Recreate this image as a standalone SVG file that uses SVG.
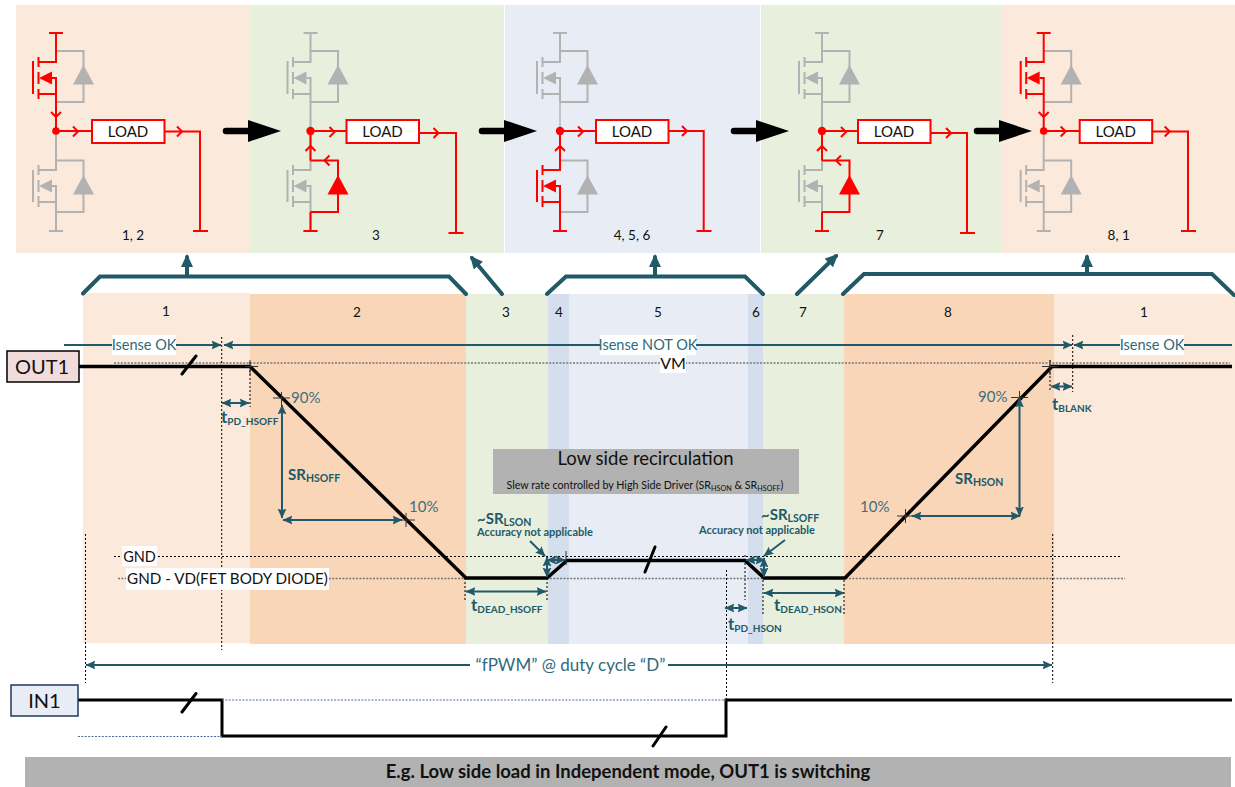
<svg xmlns="http://www.w3.org/2000/svg" width="1235" height="787" viewBox="0 0 1235 787">
<style>
text{font-family:"Lato","Open Sans","Liberation Sans",sans-serif}
.r{color:#f00}.g{color:#b2b2b2}
.w{fill:none;stroke:currentColor;stroke-width:2}
.t{fill:currentColor;stroke:none}
.rw{fill:none;stroke:#f00;stroke-width:2}
.gw{fill:none;stroke:#b2b2b2;stroke-width:2}
.load{fill:#fff;stroke:#f00;stroke-width:2}
.lt{font-size:15px;text-anchor:middle;fill:#111}
.pn{font-size:13.5px;text-anchor:middle;fill:#111}
.bn{font-size:13.5px;text-anchor:middle;fill:#111}
.blk{fill:#000;stroke:none}
.wave{fill:none;stroke:#000;stroke-width:3.5;stroke-linejoin:miter}
.wave2{fill:none;stroke:#000;stroke-width:3;stroke-linejoin:miter}
.thin{fill:none;stroke:#000;stroke-width:3;stroke-linecap:round}
.tick{fill:none;stroke:#333;stroke-width:1}
.br{fill:none;stroke:#215968;stroke-width:4;stroke-linecap:round;stroke-linejoin:miter}
.up{fill:none;stroke:#215968;stroke-width:4;stroke-linecap:round;marker-end:url(#hb)}
.dim{fill:none;stroke:#215968;stroke-width:2;marker-start:url(#ha);marker-end:url(#ha)}
.one{fill:none;stroke:#215968;stroke-width:2;marker-end:url(#ha)}
.dot{fill:none;stroke:#000;stroke-width:1;stroke-dasharray:2 2}
.dot2{fill:none;stroke:#777;stroke-width:1.6;stroke-dasharray:2 1.4}
.nav{fill:none;stroke:#4a6a9c;stroke-width:1;stroke-dasharray:2 1.4}
.wb{fill:#fff}
.lab{font-size:14.5px;fill:#2f6b7b}
.blab{font-size:14.5px;fill:#111}
.b{font-weight:700;fill:#215968}
.pct{font-size:15px;fill:#3d6f7e}
</style>
<defs>
<marker id="ha" markerUnits="userSpaceOnUse" markerWidth="10" markerHeight="10" viewBox="0 0 9 8" refX="8.5" refY="4" orient="auto-start-reverse"><path d="M0 0L9 4L0 8L1.5 4Z" fill="#215968"/></marker>
<marker id="hb" markerUnits="userSpaceOnUse" markerWidth="14" markerHeight="12" viewBox="0 0 14 12" refX="10" refY="6" orient="auto"><path d="M0 0L13 6L0 12Z" fill="#215968"/></marker>
<g id="fetH"><path class="w" d="M-7 33H7M0 33V62H-17.5M-17.5 57V67M-17.5 72V84M-17.5 89V99M-23 61V94M-17.5 94H0M-4 78H0V102"/><path class="t" d="M-17 78L-4 71.5V84.5Z"/></g>
<g id="fetL"><path class="w" d="M0 131V170H-17.5M-17.5 165V175M-17.5 180V192M-17.5 196V207M-23 170V202M-17.5 202H0M-4 186H0V231M-7 231H7"/><path class="t" d="M-17 186L-4 179.5V192.5Z"/></g>
<g id="dioH"><path class="w" d="M0 51H27.5V102H0"/><path class="t" d="M27.5 65L38 84.5H17Z"/></g>
<g id="dioL"><path class="w" d="M0 160.5H27.5V212H0"/><path class="t" d="M27.5 175L38 194.5H17Z"/></g>
<path id="chev" class="rw" d="M-5 -5L0 0L-5 5"/>
<g id="bigA"><path d="M0 131H23" fill="none" stroke="#000" stroke-width="6.5" stroke-linecap="round"/><path class="blk" d="M22 120L55 131L22 142Z"/></g>
</defs>

<g id="backgrounds">
<rect x="16" y="5" width="234" height="248" fill="#fbe9db"/>
<rect x="250" y="5" width="254" height="248" fill="#e9efdd"/>
<rect x="505" y="5" width="255" height="248" fill="#e8edf5"/>
<rect x="761" y="5" width="240" height="248" fill="#e9efdd"/>
<rect x="1001" y="5" width="234" height="248" fill="#fbe9db"/>
<rect x="83" y="293" width="167" height="350" fill="#fbe9db"/>
<rect x="250" y="294" width="216" height="350" fill="#f9d6b8"/>
<rect x="466" y="294" width="82" height="350" fill="#e9efdd"/>
<rect x="548" y="294" width="21" height="350" fill="#d4deec"/>
<rect x="569" y="294" width="179" height="350" fill="#e8edf5"/>
<rect x="748" y="294" width="15" height="350" fill="#d4deec"/>
<rect x="763" y="294" width="81" height="350" fill="#e9efdd"/>
<rect x="844" y="294" width="210" height="350" fill="#f9d6b8"/>
<rect x="1054" y="294" width="181" height="350" fill="#fbe9db"/>
</g>

<g id="panel-1-2" transform="translate(56 0)">
<use href="#dioH" class="g"/><use href="#dioL" class="g"/><use href="#fetL" class="g"/><use href="#fetH" class="r"/>
<path class="rw" d="M0 102V131H36"/>
<use href="#chev" transform="translate(0 117) rotate(90)"/><use href="#chev" transform="translate(22 131.5)"/>
<circle cy="131" r="3.8" fill="#f00"/>
<rect class="load" x="36" y="120" width="72.5" height="23"/><text class="lt" x="72" y="137">LOAD</text>
<path class="rw" d="M108.5 131.5H144V231M137 231H152"/><use href="#chev" transform="translate(126 131.5)"/>
<text class="pn" x="77" y="240">1, 2</text>
</g>

<g id="panel-3" transform="translate(310.5 0)">
<use href="#dioH" class="g"/><use href="#fetH" class="g"/><use href="#fetL" class="g"/>
<path class="gw" d="M0 102V131"/>
<use href="#dioL" class="r"/>
<path class="rw" d="M0 131V160.5M0 212V231M-7 231H7M0 131H36"/>
<use href="#chev" transform="translate(0 146) rotate(-90)"/><use href="#chev" transform="translate(14 160.5) rotate(180)"/><use href="#chev" transform="translate(24 132)"/>
<circle cy="131" r="4.2" fill="#f00"/>
<rect class="load" x="36" y="120" width="72.5" height="23"/><text class="lt" x="72" y="137">LOAD</text>
<path class="rw" d="M108.5 133H145.500V233M138 233H153"/><use href="#chev" transform="translate(128 133)"/>
<text class="pn" x="65.500" y="240">3</text>
</g>

<g id="panel-4-5-6" transform="translate(560 0)">
<use href="#dioH" class="g"/><use href="#fetH" class="g"/><use href="#dioL" class="g"/>
<path class="gw" d="M0 102V131" opacity=".7"/>
<use href="#fetL" class="r"/>
<path class="rw" d="M0 131H36"/>
<use href="#chev" transform="translate(0 146) rotate(-90)"/><use href="#chev" transform="translate(23 131.500)"/>
<circle cy="131" r="4.200" fill="#f00"/>
<rect class="load" x="36" y="120" width="72.500" height="23"/><text class="lt" x="72" y="137">LOAD</text>
<path class="rw" d="M108.500 131H143.700V231M136.500 231H151.500"/><use href="#chev" transform="translate(127 131)"/>
<text class="pn" x="72" y="240">4, 5, 6</text>
</g>

<g id="panel-7" transform="translate(822 0)">
<use href="#dioH" class="g"/><use href="#fetH" class="g"/><use href="#fetL" class="g"/>
<path class="gw" d="M0 102V131"/>
<use href="#dioL" class="r"/>
<path class="rw" d="M0 131V160.5M0 212V231M-7 231H7M0 131H36"/>
<use href="#chev" transform="translate(0 146) rotate(-90)"/><use href="#chev" transform="translate(14 160.5) rotate(180)"/><use href="#chev" transform="translate(24 132)"/>
<circle cy="131" r="4.200" fill="#f00"/>
<rect class="load" x="36" y="120" width="72.500" height="23"/><text class="lt" x="72" y="137">LOAD</text>
<path class="rw" d="M108.500 133H145V233M138 233H153"/><use href="#chev" transform="translate(129 133)"/>
<text class="pn" x="58" y="240">7</text>
</g>

<g id="panel-8-1" transform="translate(1043.700 0)">
<use href="#dioH" class="g"/><use href="#dioL" class="g"/><use href="#fetL" class="g"/><use href="#fetH" class="r"/>
<path class="rw" d="M0 102V131H36"/>
<use href="#chev" transform="translate(0 117) rotate(90)"/><use href="#chev" transform="translate(22 131.500)"/>
<circle cy="131" r="3.800" fill="#f00"/>
<rect class="load" x="36" y="120" width="72.500" height="23"/><text class="lt" x="72" y="137">LOAD</text>
<path class="rw" d="M108.500 131.500H144.300V231M137.300 231H152.300"/><use href="#chev" transform="translate(126 131.500)"/>
<text class="pn" x="75" y="240">8, 1</text>
</g>

<g id="phase-numbers">
<text class="bn" x="166" y="316">1</text><text class="bn" x="357" y="317">2</text><text class="bn" x="506" y="317">3</text><text class="bn" x="559" y="317">4</text><text class="bn" x="658" y="317">5</text><text class="bn" x="756" y="317">6</text><text class="bn" x="803" y="317">7</text><text class="bn" x="948" y="317">8</text><text class="bn" x="1144" y="317">1</text>
</g>

<g id="connectors">
<use href="#bigA" transform="translate(226 0)"/><use href="#bigA" transform="translate(482 0)"/><use href="#bigA" transform="translate(734 0)"/><use href="#bigA" transform="translate(977 0)"/>
<path class="br" d="M83 293.500L100 276.500H449L466 294"/>
<path class="br" d="M547 294L566 276.500H745L763 294"/>
<path class="br" d="M843 294L864 274H1212L1234 295"/>
<path class="up" d="M187 276V257"/><path class="up" d="M655 276V257"/><path class="up" d="M1087 274V257"/>
<path class="up" d="M502 294L472 258"/><path class="up" d="M797 294L836 256"/>

<path class="dot2" d="M114 363H1230"/>
<path class="dot" d="M114 556.500H1122"/>
<path class="dot2" d="M118 578.500H1125"/>

<path class="one" d="M64 345H221"/><path class="dim" d="M224 345H1072"/><path class="one" d="M1232 345H1074"/>
<path class="dim" d="M86 665H1052"/>

<path class="dot" d="M221.700 337V650M250 362V407M85.500 534V683M1052.700 534V683M1050 360V392M1072.700 335V392M465 578V600M547 578V602M763 580V616M844 580V614M745 555V600M726.500 570V700"/>

<path class="wave" d="M79 366.500H250L466 578H547L567 560.500H745L764 578H845L1052 366.500H1232"/>
<path class="thin" d="M182 374L196 356M645 572L655 547"/>
<path class="wave2" d="M78 700H222V736H726V700H1232"/>
<path class="thin" d="M182 712L196 693.500M653 746L666 727"/>
<path class="nav" d="M222 700H726M78 736.500H222"/>

<path class="tick" d="M245 366.500H258M250 360V375M273 398H290M281.500 392V405M398 520H415M406 513V527M1011 397.500H1028M1019.500 391V405M897 516H914M905.500 509V523M1042 366.500H1058M1050 360V375M566 551V565"/>

<path class="dim" d="M282 405V518"/><path class="dim" d="M283 520H402"/>
<path class="dim" d="M1019.500 398V516"/><path class="dim" d="M912 516H1020"/>
<path class="dim" d="M222 403H249"/><path class="dim" d="M1051 386.500H1072"/>
<path class="dim" d="M466 591.500H546"/><path class="dim" d="M764 593H844"/><path class="dim" d="M725 608H747"/>
<path class="one" d="M530 541L545 556"/><path class="one" d="M785 540L764 556"/>
<path class="dim" d="M547 557V577"/><path class="dim" d="M547 560H565"/>
<path class="dim" d="M764 558V577"/><path class="dim" d="M746 560H765"/>
</g>

<g id="label-OUT1"><rect x="7" y="351" width="72" height="31" fill="#f2dcdb" stroke="#000" stroke-width="1.500"/><text x="42" y="374" font-size="20" text-anchor="middle" fill="#111">OUT1</text></g>
<g id="label-IN1"><rect x="11" y="685" width="67" height="31" fill="#e8edf5" stroke="#1f3864" stroke-width="1.500"/><text x="44.500" y="708" font-size="20" text-anchor="middle" fill="#111">IN1</text></g>

<g id="isense-labels">
<rect class="wb" x="112" y="335" width="64" height="20"/><text class="lab" x="144" y="350" text-anchor="middle">Isense OK</text>
<rect class="wb" x="600" y="335" width="96" height="20"/><text class="lab" x="648" y="350" text-anchor="middle">Isense NOT OK</text>
<rect class="wb" x="1120" y="335" width="64" height="20"/><text class="lab" x="1152" y="350" text-anchor="middle">Isense OK</text>
<rect class="wb" x="660" y="353" width="26" height="20"/><text x="673" y="368.500" font-size="16" text-anchor="middle" fill="#111">VM</text>
<rect class="wb" x="122" y="546" width="35" height="20"/><text class="blab" x="139.500" y="561.500" text-anchor="middle">GND</text>
<rect class="wb" x="126" y="568" width="203" height="22"/><text x="227.500" y="584" font-size="15.200" text-anchor="middle" fill="#111">GND - VD(FET BODY DIODE)</text>
<rect class="wb" x="470" y="655" width="198" height="20"/><text x="570.500" y="670.500" font-size="17" text-anchor="middle" fill="#2f6b7b">“fPWM” @ duty cycle “D”</text>
</g>

<g id="measure-labels">
<text class="pct" x="291" y="403">90%</text><text class="pct" x="409" y="512">10%</text><text class="pct" x="978" y="402">90%</text><text class="pct" x="860" y="512">10%</text>
<text class="b" x="288" y="480" font-size="15">SR<tspan font-size="10.500" dy="2">HSOFF</tspan></text>
<text class="b" x="955" y="484" font-size="15">SR<tspan font-size="10.500" dy="2">HSON</tspan></text>
<text class="b" x="221" y="423" font-size="17">t<tspan font-size="10" dy="2">PD_HSOFF</tspan></text>
<text class="b" x="1052" y="410" font-size="17">t<tspan font-size="10" dy="2">BLANK</tspan></text>
<text class="b" x="471" y="611" font-size="17">t<tspan font-size="10" dy="2">DEAD_HSOFF</tspan></text>
<text class="b" x="774" y="611" font-size="17">t<tspan font-size="10" dy="2">DEAD_HSON</tspan></text>
<text class="b" x="728" y="630" font-size="17">t<tspan font-size="10" dy="2">PD_HSON</tspan></text>
<text class="b" x="477" y="524" font-size="15">~SR<tspan font-size="10.500" dy="2">LSON</tspan></text>
<text class="b" x="477" y="535.500" font-size="11">Accuracy not applicable</text>
<text class="b" x="761" y="520" font-size="15">~SR<tspan font-size="10.500" dy="2">LSOFF</tspan></text>
<text class="b" x="699" y="534" font-size="11">Accuracy not applicable</text>
</g>

<g id="note-recirculation">
<rect x="493" y="449" width="306" height="45" fill="#b2b2b2"/>
<text x="645.500" y="465" font-size="18.500" text-anchor="middle" fill="#111">Low side recirculation</text>
<text x="645" y="489" font-size="10.700" text-anchor="middle" fill="#111">Slew rate controlled by High Side Driver (SR<tspan font-size="7.200" dy="1.500">HSON</tspan><tspan dy="-1.500"> &amp; SR</tspan><tspan font-size="7.200" dy="1.500">HSOFF</tspan><tspan dy="-1.500">)</tspan></text>
</g>

<g id="caption">
<rect x="25" y="757" width="1206" height="30" fill="#b2b2b2"/>
<text x="628" y="778" font-size="18.500" font-weight="700" text-anchor="middle" fill="#111">E.g. Low side load in Independent mode, OUT1 is switching</text>
</g>
</svg>
